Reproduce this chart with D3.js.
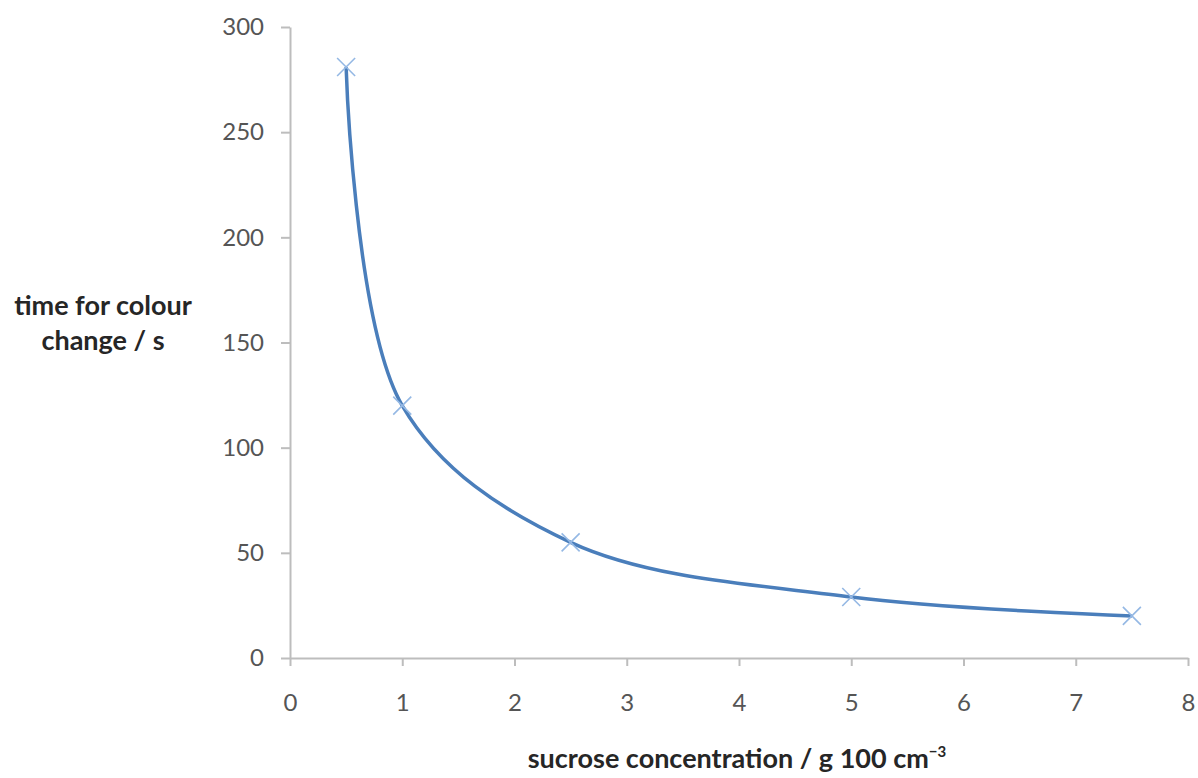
<!DOCTYPE html>
<html><head><meta charset="utf-8">
<script src="https://cdn.jsdelivr.net/npm/d3@7"></script>
<style>body{margin:0;background:#fff}svg{display:block}</style>
</head><body>
<svg id="c" width="1198" height="778"></svg>
<script>
const concentration = [0.5, 1, 2.5, 5, 7.5];
const timeSeconds = [281, 120, 55, 29, 20];
const xTicks = [0,1,2,3,4,5,6,7,8];
const yTicks = [0,50,100,150,200,250,300];

const svg = d3.select('#c');
const x = d3.scaleLinear().domain([0,8]).range([290,1188]);
const y = d3.scaleLinear().domain([0,300]).range([658,27]);
const font = 'Lato, "Open Sans", sans-serif';

const xAxis = svg.append('g').attr('transform','translate(0,658)')
  .call(d3.axisBottom(x).tickValues(xTicks).tickSize(8).tickPadding(28).tickSizeOuter(0));
const yAxis = svg.append('g').attr('transform','translate(290,0)')
  .call(d3.axisLeft(y).tickValues(yTicks).tickSize(9).tickPadding(17).tickSizeOuter(0));
[xAxis,yAxis].forEach(g=>{
  g.select('.domain').attr('stroke','#bdbdbd').attr('stroke-width',2);
  g.selectAll('.tick line').attr('stroke','#bdbdbd').attr('stroke-width',2);
  g.selectAll('.tick text').attr('fill','#555').style('font-family',font).style('font-size','24px');
});

const pts = concentration.map((c,i)=>[c,timeSeconds[i]]);
svg.append('path').datum(pts)
  .attr('d', d3.line().x(d=>x(d[0])).y(d=>y(d[1])).curve(d3.curveCatmullRom.alpha(0.5)))
  .attr('fill','none').attr('stroke','#4a7ebb').attr('stroke-width',3.5);

const s = 9;
svg.append('g').selectAll('path').data(pts).join('path')
  .attr('d', d=>{const px=x(d[0]),py=y(d[1]);return `M${px-s},${py-s}L${px+s},${py+s}M${px-s},${py+s}L${px+s},${py-s}`;})
  .attr('stroke','#94b8e4').attr('stroke-width',1.6).attr('fill','none');

const yt = svg.append('text').attr('text-anchor','middle').attr('fill','#262626')
  .style('font-family',font).style('font-size','27px').style('font-weight','bold');
yt.append('tspan').attr('x',103).attr('y',315).text('time for colour');
yt.append('tspan').attr('x',103).attr('y',350).text('change / s');

const xt = svg.append('text').attr('x',737).attr('y',768).attr('text-anchor','middle').attr('fill','#262626')
  .style('font-family',font).style('font-size','27px').style('font-weight','bold');
xt.append('tspan').text('sucrose concentration / g 100 cm');
xt.append('tspan').attr('dy',-11).style('font-size','15px').text('−3');
</script>
</body></html>
